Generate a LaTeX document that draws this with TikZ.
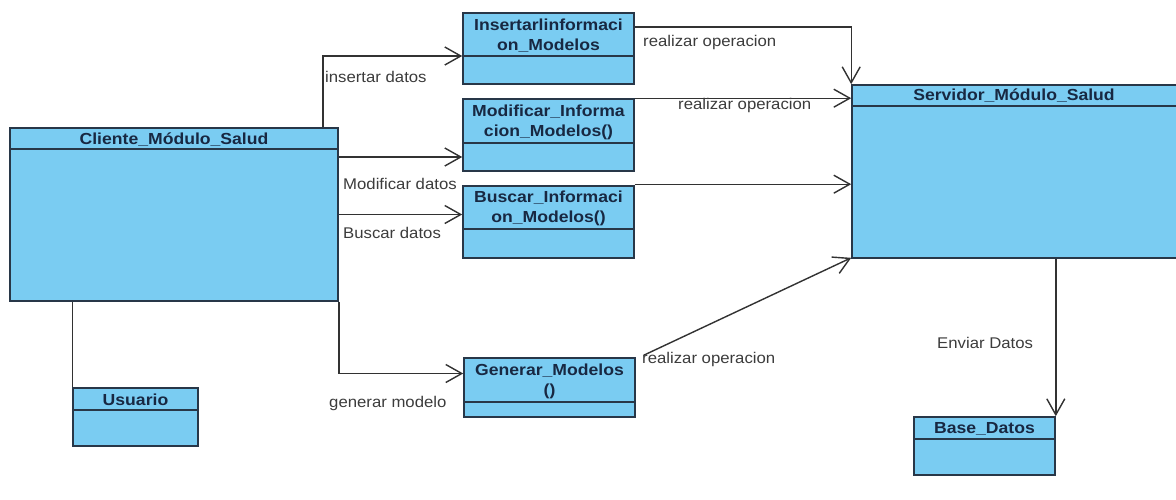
\documentclass[tikz,border=0pt]{standalone}
\usepackage{fontspec}
\setmainfont{Liberation Sans}
\newfontfamily\ttlfont{Liberation Sans}[FakeStretch=1.1]
\newfontfamily\lblfont{Liberation Sans}[FakeStretch=1.08]
\usetikzlibrary{arrows.meta}
\pgfdeclarelayer{bg}
\pgfsetlayers{bg,main}
\definecolor{boxfill}{RGB}{122,204,242}
\definecolor{boxline}{RGB}{40,55,72}
\definecolor{ttlcol}{RGB}{24,40,66}
\definecolor{lblcol}{RGB}{60,60,60}
\definecolor{linecol}{RGB}{50,50,50}
\tikzset{
  cls/.style={draw=boxline, fill=boxfill, line width=1.6pt, inner sep=0pt},
  clsline/.style={draw=boxline, line width=1.6pt},
  ttl/.style={font=\ttlfont\fontsize{16}{20}\selectfont\bfseries, text=ttlcol, align=center, inner sep=0pt},
  lbl/.style={font=\lblfont\fontsize{15.5}{18}\selectfont, text=lblcol, anchor=west, inner sep=0pt},
  conn/.style={draw=linecol, line width=1.4pt},
  arr/.style={conn, -{Straight Barb[length=16pt,width=18pt,line width=1.4pt]}},
}
\newcommand\umlbox[7]{%
  \node[cls, minimum width={#4-#2}, minimum height={#5-#3}] (#1) at ({(#2+#4)/2},{(#3+#5)/2}) {};
  \draw[clsline] (#1.west |- 0,#6) -- (#1.east |- 0,#6);
  \node[ttl] (#1-t) at ({(#2+#4)/2},{(#3+#6)/2+1}) {#7};
}
\begin{document}
\begin{tikzpicture}[x=1pt,y=-1pt]
\useasboundingbox[fill=white] (0,0) rectangle (1176,499);

\umlbox{cli}{10}{128}{338}{301}{149}{Cliente\_Módulo\_Salud}
\umlbox{ins}{463}{13}{634}{84}{56}{Insertarlinformaci\\on\_Modelos}
\umlbox{mod}{463}{99}{634}{171}{143}{Modificar\_Informa\\cion\_Modelos()}
\umlbox{bus}{463}{186}{634}{258}{229}{Buscar\_Informaci\\on\_Modelos()}
\umlbox{gen}{464}{358}{635}{417}{402}{Generar\_Modelos\\()}
\umlbox{srv}{852}{85}{1180}{258}{106}{}
\node[ttl] (srv-t) at (1014,96) {Servidor\_Módulo\_Salud};
\umlbox{bd}{914}{417}{1055}{475}{439}{Base\_Datos}
\umlbox{usu}{73}{388}{198}{446}{410}{Usuario}

% client connectors
\draw[arr] ([xshift=-16pt]cli.north east) |- ([yshift=-7.5pt]ins.west);
\draw[arr] (cli.east |- 0,157) -- (mod.west |- 0,157);
\draw[arr] (cli.east) -- (cli.east -| bus.west);
\draw[arr] (cli.south east) |- ([yshift=14pt]gen.west);
\draw[conn] (usu.north west) -- (usu.north west |- cli.south);

% to server
\draw[arr] ([yshift=21.5pt]ins.east) -| (srv.north west);
\draw[arr] (mod.north east) -- (mod.north east -| srv.west);
\draw[arr] ([yshift=1pt]bus.north east) -- ([yshift=1pt]bus.north east -| srv.west);
\draw[arr] ([xshift=8pt,yshift=2pt]gen.north east) -- ([yshift=1pt]srv.south west);
\draw[arr] (bd.north east |- srv.south) -- (bd.north east);

% labels
\node[lbl] (l1) at (325,77) {insertar datos};
\node[lbl] (l2) at (343,184) {Modificar datos};
\node[lbl] (l3) at (343,233) {Buscar datos};
\node[lbl] (l4) at (329,403) {generar modelo};
\node[lbl] (l5) at (643,42) {realizar operacion};
\node[lbl] (l6) at (678,105) {realizar operacion};
\begin{pgfonlayer}{bg}
\node[lbl] (l7) at (719,215) {realizar operacion};
\end{pgfonlayer}
\node[lbl] (l8) at (642,359) {realizar operacion};
\node[lbl] (l9) at (937,343) {Enviar Datos};
\end{tikzpicture}
\end{document}
